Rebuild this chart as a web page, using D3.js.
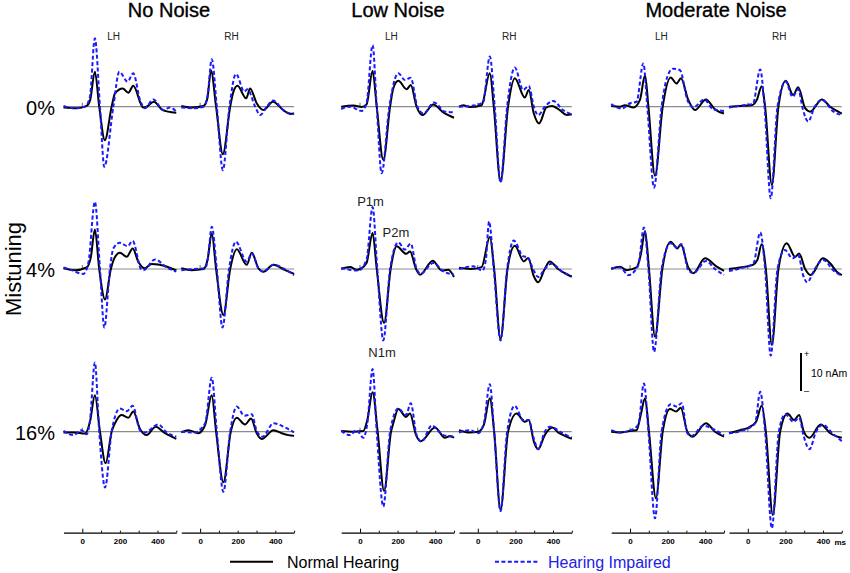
<!DOCTYPE html>
<html>
<head>
<meta charset="utf-8">
<script src="https://cdn.jsdelivr.net/npm/d3@7"></script>
<style>
body { margin: 0; background: #fff; }
svg { font-family: "Liberation Sans", Arial, sans-serif; }
</style>
</head>
<body>
<svg id="chart" width="850" height="573"></svg>
<script>
// source waveforms, [ms, nAm]
// nh = normal hearing (solid), hi = hearing impaired (dashed)

// No Noise
var nn0LH_nh = [[-100,-0.2],[-30,-0.4],[23,0.2],[42,1.8],[67,9.2],[90,0],[120,-8.8],[156,0],[174,3.5],[215,4.8],[245,3.7],[271,5.5],[324,-0.2],[342,0],[381,1.3],[422,-0.7],[457,-1.3],[500,-1.6]]
var nn0LH_hi = [[-100,0.2],[-48,-0.4],[14,0],[40,2.5],[67,18],[94,0],[117,-15.8],[165,0],[197,9.2],[241,6.6],[271,8.8],[307,1.8],[333,-0.4],[378,1.9],[431,-0.9],[466,-0.2],[500,-1.3]]
var nn0RH_nh = [[-100,0.2],[-44,-0.2],[18,0.2],[38,2],[58,9.5],[85,0],[121,-12.5],[160,0],[177,3.9],[199,5.5],[245,2.2],[266,4.8],[301,0.9],[337,-0.9],[387,1.3],[443,-0.9],[479,-1.9],[500,-1.8]]
var nn0RH_hi = [[-100,-0.2],[-35,-0.4],[18,0],[40,3],[62,12.5],[89,0],[121,-16.7],[156,0],[191,8.6],[235,4],[252,4.6],[293,0],[319,-2.2],[355,0],[387,1.6],[452,-1.3],[500,-1.9]]

var nn4LH_nh = [[-100,0.2],[-39,-0.3],[23,0.4],[45,3],[67,10.4],[90,0],[121,-8],[152,0],[170,2.8],[200,4.3],[236,3.2],[268,5.4],[298,1.9],[330,0.2],[369,1.3],[440,0.8],[500,-0.4]]
var nn4LH_hi = [[-100,0.4],[-57,-0.3],[5,-1.3],[32,1.5],[67,17.7],[94,0],[117,-15.4],[147,0],[165,5.4],[200,6.9],[241,6],[268,7.4],[312,0],[325,-0.3],[387,2.5],[449,0.4],[500,-0.7]]
var nn4RH_nh = [[-100,0.2],[-44,-0.3],[18,0],[40,2.5],[62,9.4],[85,0],[124,-12.1],[160,0],[195,5.2],[248,1.1],[275,4.3],[310,0.2],[337,-0.7],[390,1.1],[452,-0.3],[500,-1.3]]
var nn4RH_hi = [[-100,-0.3],[-30,0],[27,0.2],[42,3],[62,11.1],[89,0],[119,-15.4],[154,0],[190,7.2],[248,1.9],[275,4.1],[310,0.2],[337,-0.7],[390,1.1],[452,-0.1],[500,-1.6]]

var nn16LH_nh = [[-100,-0.2],[-40,-0.2],[14,-0.5],[41,2.6],[67,9.6],[94,0],[124,-8.3],[156,0],[183,3.1],[209,4.4],[245,3.7],[271,5.3],[307,0.7],[342,-0.9],[390,1.3],[440,-0.4],[500,-1.9]]
var nn16LH_hi = [[-100,0.2],[-48,-0.9],[-4,0.4],[23,-0.7],[41,3],[67,18.2],[90,0],[121,-14.7],[156,0],[200,6.1],[236,5.4],[268,6.8],[307,0.4],[333,-0.2],[404,1.9],[449,-0.2],[500,-1.3]]
var nn16RH_nh = [[-100,-0.2],[-62,0.4],[-9,-0.4],[27,1.8],[62,9.6],[85,0],[124,-13.3],[163,0],[195,3.7],[239,1.9],[271,3.5],[301,-0.4],[328,-1.9],[390,0.4],[434,-0.4],[470,-0.9],[500,-1.1]]
var nn16RH_hi = [[-100,0],[-30,-0.2],[27,2.2],[62,14.2],[89,0],[124,-15.8],[160,0],[195,6.6],[236,4.2],[275,4.6],[301,0.2],[332,-1.3],[390,2.2],[452,1.1],[500,-0.2]]

// Low Noise
var ln0LH_nh = [[-100,0],[-35,0.3],[9,-0.1],[35,0.6],[67,9.4],[89,0],[124,-14],[160,0],[177,4.8],[204,6.8],[248,4.6],[270,5.7],[301,0],[333,-2.2],[390,0.6],[443,-1.5],[500,-2.9]]
var ln0LH_hi = [[-100,-0.6],[-53,0],[9,-1.1],[35,1],[67,16.2],[89,0],[115,-17.5],[156,0],[204,8.8],[239,7],[270,7.6],[305,0],[337,-1.8],[394,1.1],[452,-1.3],[500,-1.5]]
var ln0RH_nh = [[-100,0],[-78,0.4],[-43,-0.1],[20,0.4],[64,8.8],[85,0],[121,-19.7],[161,0],[197,7.5],[250,2.4],[271,4.4],[298,-1.8],[326,-4.4],[365,-0.2],[395,0.2],[436,-0.9],[472,-2.2],[500,-2]]
var ln0RH_hi = [[-100,0],[-25,0.3],[28,1.1],[64,13.2],[90,0],[121,-19.9],[156,0],[197,10.3],[241,4.4],[271,5.5],[298,0],[321,-2.2],[356,0],[401,1.5],[454,-0.9],[500,-2]]

var ln4LH_nh = [[-100,0],[-53,0.5],[-18,-0.2],[0,0],[35,1.6],[67,9.5],[89,0],[128,-14.2],[163,0],[195,6],[245,4],[266,4.6],[298,0],[319,-1.5],[387,2.2],[434,-0.4],[470,-0.2],[500,-2.1]]
var ln4LH_hi = [[-100,0.3],[-9,-0.4],[35,2.5],[67,16.3],[92,0],[124,-18.8],[160,0],[204,7],[239,5.1],[270,6.7],[301,0],[323,-1.2],[390,1.6],[443,-0.6],[500,-1.5]]
var ln4RH_nh = [[-100,0.3],[-40,0],[20,0.5],[64,8.4],[87,0],[121,-18.4],[158,0],[197,6.1],[245,2],[268,2.9],[298,-1.9],[321,-3.5],[356,0],[383,2],[427,0],[463,-1.1],[500,-2.1]]
var ln4RH_hi = [[-100,0],[-25,0.7],[25,-0.4],[43,2.5],[60,12.5],[85,0],[121,-18.8],[156,0],[191,7.5],[240,3.4],[265,3.1],[294,0],[321,-2.1],[356,0],[392,1.4],[454,-0.9],[500,-1.9]]

var ln16LH_nh = [[-100,0.2],[-35,0],[18,0.2],[39,3.1],[67,10.4],[94,0],[128,-15.6],[165,0],[177,2.2],[204,6],[245,3.9],[266,4.8],[298,-0.9],[323,-2.5],[399,1.1],[452,-1.6],[479,-1.1],[500,-1.6]]
var ln16LH_hi = [[-100,0.2],[-53,-0.9],[-18,0.4],[18,-1.6],[39,2.2],[67,16.5],[89,0],[124,-19.7],[160,0],[204,6.1],[245,4.4],[270,7.5],[301,-0.9],[328,-2.6],[381,1.6],[443,-0.9],[500,-1.3]]
var ln16RH_nh = [[-100,0.4],[-43,-0.2],[2,0],[32,1.8],[64,8.8],[87,0],[121,-20.6],[161,0],[206,4.8],[250,2.6],[271,3.1],[298,-2.6],[321,-4.6],[356,-0.9],[397,1.1],[427,-0.2],[455,-0.9],[500,-1.9]]
var ln16RH_hi = [[-100,-0.2],[-43,0.4],[2,-0.4],[32,2.2],[64,12.5],[87,0],[121,-20.9],[156,0],[197,6.8],[241,3.1],[271,3.1],[298,-1.8],[321,-4.6],[356,0],[383,1.3],[452,-0.4],[500,-1.6]]

// Moderate Noise
var md0LH_nh = [[-100,0.2],[-53,0],[-27,0.4],[18,-0.2],[53,1.8],[80,8.3],[98,0],[133,-18.2],[174,0],[216,7.7],[248,6.1],[271,7.5],[310,1.8],[346,-0.9],[404,1.9],[452,-0.7],[500,-1.8]]
var md0LH_hi = [[-100,0.7],[-44,-0.5],[0,0.9],[35,1.3],[71,11.4],[92,0],[128,-21.3],[168,0],[210,9.2],[230,10],[266,9.6],[305,1.8],[337,-0.2],[394,1.9],[443,-0.7],[500,-1.1]]
var md0RH_nh = [[-100,0],[-41,0.2],[21,0.4],[48,1.8],[74,5.4],[92,0],[128,-20.6],[163,0],[202,6.8],[241,3.1],[268,5.1],[305,-0.4],[332,-1.3],[394,1.9],[438,0],[500,-1.8]]
var md0RH_hi = [[-100,-0.2],[-23,0.4],[27,0.7],[66,9.8],[89,0],[122,-24.1],[158,0],[202,6.6],[238,2.6],[268,4.6],[294,-0.9],[321,-3.9],[356,0],[394,1.8],[456,-1.3],[500,-2.2]]

var md4LH_nh = [[-100,0],[-53,0.6],[-18,-0.3],[35,0.4],[57,3.7],[80,10],[101,0],[133,-17.8],[172,0],[216,7.2],[252,5.4],[270,6.5],[310,0.4],[337,-1.1],[399,2.8],[461,0.6],[500,-0.5]]
var md4LH_hi = [[-100,0.2],[-53,0.4],[-9,-1.6],[44,1],[74,10.9],[98,0],[128,-21.8],[168,0],[216,6.8],[252,5.6],[275,6.5],[310,-0.3],[337,-1.1],[404,2.1],[452,0],[500,-1.6]]
var md4RH_nh = [[-100,0],[-41,0.4],[27,1.1],[51,2.4],[74,6.5],[96,0],[128,-20],[163,0],[207,6.8],[252,3.2],[273,4.1],[305,0],[335,-1.6],[399,2.8],[438,1.5],[473,-0.7],[500,-1.6]]
var md4RH_hi = [[-100,-0.5],[-23,0.4],[30,1.5],[66,9.6],[92,0],[122,-22.8],[158,0],[197,5],[238,2.8],[268,3.7],[294,-1.6],[316,-3.5],[356,0],[401,2.4],[454,-0.3],[500,-1.8]]

var md16LH_nh = [[-100,0],[-53,-0.2],[0,0.2],[35,0.4],[57,4.4],[80,8.8],[101,0],[138,-17.5],[174,0],[213,6],[245,5.3],[270,6.3],[305,0],[333,-1.3],[404,2.2],[452,0],[500,-1.3]]
var md16LH_hi = [[-100,0.4],[-53,-0.2],[18,0.7],[45,2],[74,12.7],[98,0],[133,-22.8],[168,0],[216,7.2],[248,6.6],[275,7.5],[305,-0.4],[328,-1.1],[390,1.6],[443,0.7],[500,-1]]
var md16RH_nh = [[-100,-0.4],[-41,0.4],[4,1.1],[44,2.6],[74,6.8],[96,0],[133,-21.9],[172,0],[211,4.8],[246,3.1],[273,4.4],[298,0],[328,-1.6],[388,1.9],[438,-0.4],[500,-1.6]]
var md16RH_hi = [[-100,-0.4],[-23,0.4],[39,2.2],[66,10.5],[92,0],[128,-25.4],[165,0],[199,4.6],[243,2.6],[273,3.7],[298,-1.3],[328,-4.6],[363,0],[399,1.8],[450,-0.4],[500,-2.5]]

var conditions = ["No Noise", "Low Noise", "Moderate Noise"]
var mistunings = ["0%", "4%", "16%"]
var hemispheres = ["LH", "RH"]
var axisTicks = [0, 100, 200, 300, 400, 500]
var axisLabels = [0, 200, 400]
var peakNames = ["P1m", "P2m", "N1m"]
var groups = ["Normal Hearing", "Hearing Impaired"]

// waves[condition][mistuning][hemisphere] = [nh, hi]
var waves = [
	[[[nn0LH_nh, nn0LH_hi], [nn0RH_nh, nn0RH_hi]],
	 [[nn4LH_nh, nn4LH_hi], [nn4RH_nh, nn4RH_hi]],
	 [[nn16LH_nh, nn16LH_hi], [nn16RH_nh, nn16RH_hi]]],
	[[[ln0LH_nh, ln0LH_hi], [ln0RH_nh, ln0RH_hi]],
	 [[ln4LH_nh, ln4LH_hi], [ln4RH_nh, ln4RH_hi]],
	 [[ln16LH_nh, ln16LH_hi], [ln16RH_nh, ln16RH_hi]]],
	[[[md0LH_nh, md0LH_hi], [md0RH_nh, md0RH_hi]],
	 [[md4LH_nh, md4LH_hi], [md4RH_nh, md4RH_hi]],
	 [[md16LH_nh, md16LH_hi], [md16RH_nh, md16RH_hi]]]
]

// layout
var groupLeft = [63.5, 341.2, 611.2]
var titleX = [169, 398, 716]
var rhShift = 117.8
var panelW = 112.8
var rowBase = [106.7, 269, 431.7]
var pxPerTen = 38
var axisY = 532.7
var blue = "#1a1aff"

var svg = d3.select("#chart")

function panelX(c, k) {
	let x0 = groupLeft[c] + k * rhShift
	return d3.scaleLinear().domain([-100, 500]).range([x0, x0 + panelW])
}

function rowY(r) {
	return d3.scaleLinear().domain([0, 10]).range([rowBase[r], rowBase[r] - pxPerTen])
}

function drawWaves() {
	conditions.forEach((cond, c) => {
		svg.append("text")
		.attr("x", titleX[c])
		.attr("y", 17)
		.attr("text-anchor", "middle")
		.attr("font-size", 20)
		.attr("stroke", "#000")
		.attr("stroke-width", 0.35)
		.text(cond)

		mistunings.forEach((m, r) => {
			let y = rowY(r)
			let xl = panelX(c, 0), xr = panelX(c, 1)
			svg.append("line")
			.attr("x1", xl(-100)).attr("x2", xr(500))
			.attr("y1", y(0)).attr("y2", y(0))
			.attr("stroke", "#8c8c8c")
			.attr("stroke-width", 1.2)
		})

		hemispheres.forEach((h, k) => {
			let x = panelX(c, k)

			svg.append("text")
			.attr("x", x(167))
			.attr("y", 39.5)
			.attr("text-anchor", "middle")
			.attr("font-size", 10)
			.attr("fill", "#222")
			.text(h)

			mistunings.forEach((m, r) => {
				let y = rowY(r)
				let line = d3.line()
				.x(d => x(d[0]))
				.y(d => y(d[1]))
				.curve(d3.curveMonotoneX)

				svg.append("line")
				.attr("x1", x(0)).attr("x2", x(0))
				.attr("y1", y(0)).attr("y2", y(0) - 4)
				.attr("stroke", "#444")
				.attr("stroke-width", 0.8)

				let pair = waves[c][r][k]
				svg.append("path")
				.attr("d", line(pair[0]))
				.attr("fill", "none")
				.attr("stroke", "#000")
				.attr("stroke-width", 2)
				.attr("stroke-linejoin", "round")

				svg.append("path")
				.attr("d", line(pair[1]))
				.attr("fill", "none")
				.attr("stroke", blue)
				.attr("stroke-width", 2)
				.attr("stroke-dasharray", "4,2.4")
			})

			svg.append("g")
			.attr("transform", "translate(0," + axisY + ")")
			.call(d3.axisBottom(x)
				.tickValues(axisTicks)
				.tickSizeInner(-2)
				.tickSizeOuter(0)
				.tickPadding(6)
				.tickFormat(d => axisLabels.includes(d) ? d : ""))
			.call(g => g.attr("font-family", null).attr("font-size", 8).attr("font-weight", "bold"))
			.call(g => g.select(".domain").attr("stroke-width", 1.3))
			.call(g => g.selectAll(".tick line").attr("y2", d => d === 0 ? -4 : -2))
		})
	})

	svg.append("text")
	.attr("x", 846)
	.attr("y", axisY + 12)
	.attr("text-anchor", "end")
	.attr("font-size", 8)
	.attr("font-weight", "bold")
	.text("ms")
}

function drawLabels() {
	mistunings.forEach((m, r) => {
		svg.append("text")
		.attr("x", 55)
		.attr("y", rowBase[r] + 8)
		.attr("text-anchor", "end")
		.attr("font-size", 20)
		.text(m)
	})

	svg.append("text")
	.attr("transform", "translate(21,269) rotate(-90)")
	.attr("text-anchor", "middle")
	.attr("font-size", 22)
	.text("Mistuning")

	// peak names on Low Noise / 4% / LH
	let x = panelX(1, 0), y = rowY(1)
	let spots = [[56, 16.6], [191, 8.4], [117, -23.2]]
	peakNames.forEach((p, i) => {
		svg.append("text")
		.attr("x", x(spots[i][0]))
		.attr("y", y(spots[i][1]))
		.attr("text-anchor", "middle")
		.attr("font-size", 13)
		.attr("fill", "#222")
		.text(p)
	})

	// 10 nAm scale bar
	let barBottom = 391
	svg.append("line")
	.attr("x1", 801).attr("x2", 801)
	.attr("y1", barBottom).attr("y2", barBottom - pxPerTen)
	.attr("stroke", "#000")
	.attr("stroke-width", 2)
	svg.append("text").attr("x", 804).attr("y", barBottom - pxPerTen + 4).attr("font-size", 9).text("+")
	svg.append("text").attr("x", 804).attr("y", barBottom + 3).attr("font-size", 9).text("\u2013")
	svg.append("text").attr("x", 811).attr("y", 377).attr("font-size", 10.5).text("10 nAm")
}

function drawLegend() {
	let items = [
		{ x: 230, tx: 287, color: "#000", dash: null, text: "#000" },
		{ x: 495, tx: 548, color: blue, dash: "4,2.4", text: "#2020e8" }
	]
	groups.forEach((g, i) => {
		let it = items[i]
		svg.append("line")
		.attr("x1", it.x).attr("x2", it.x + 43)
		.attr("y1", 561.7).attr("y2", 561.7)
		.attr("stroke", it.color)
		.attr("stroke-width", 2)
		.attr("stroke-dasharray", it.dash)
		svg.append("text")
		.attr("x", it.tx)
		.attr("y", 567.5)
		.attr("font-size", 16)
		.attr("fill", it.text)
		.text(g)
	})
}

drawWaves()
drawLabels()
drawLegend()
</script>
</body>
</html>
